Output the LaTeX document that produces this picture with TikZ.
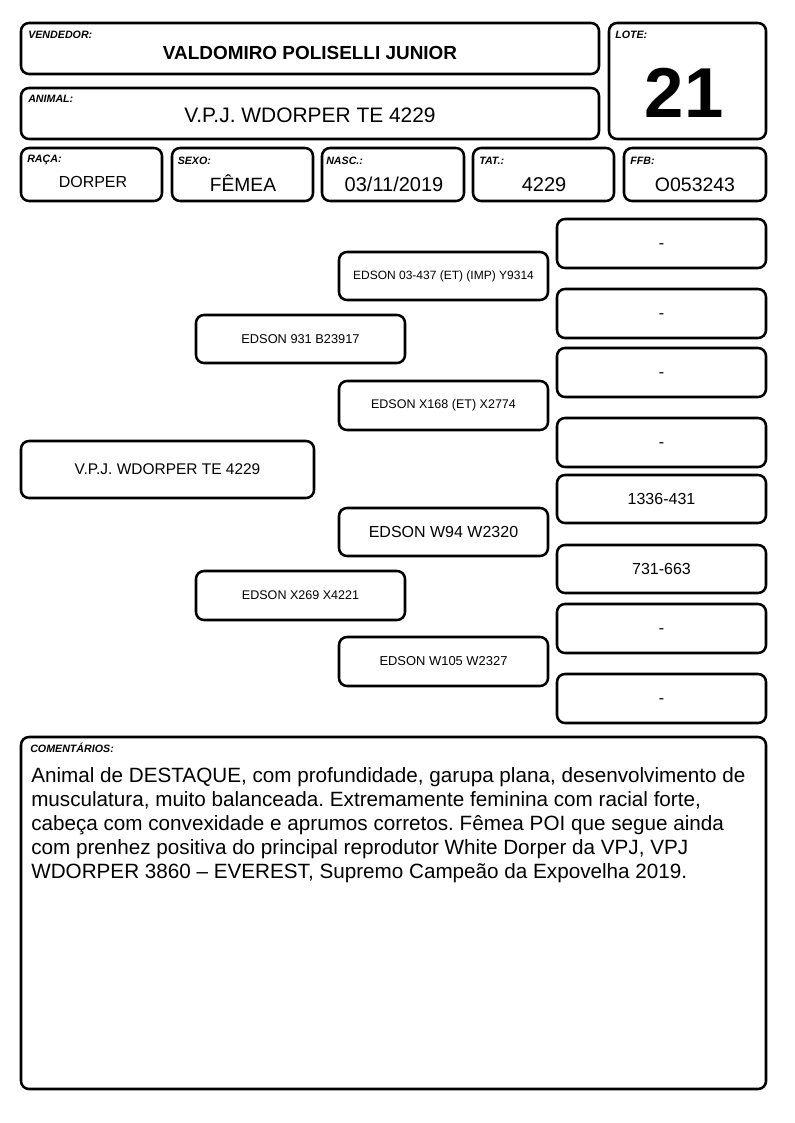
\documentclass[tikz,border=0pt]{standalone}
\usepackage{fontspec}
\setmainfont{Liberation Sans}
\begin{document}
\frenchspacing
\begin{tikzpicture}[x=0.75pt,y=-0.75pt,
  box/.style={draw, line width=1.9pt, rounded corners=6pt, inner sep=0pt, align=center},
  lbl/.style={anchor=base west, inner sep=0pt, font=\fontsize{8}{9}\selectfont\bfseries\itshape},
  val/.style={anchor=base, inner sep=0pt}]
\useasboundingbox (0,0) rectangle (794,1123);
\newcommand\mybx[6]{\node[box, minimum width={(#4-#2)*0.75pt}, minimum height={(#5-#3)*0.75pt}] (#1) at ({(#2+#4)/2},{(#3+#5)/2}) {#6};}
\newcommand\myrbx[6]{\node[box, text height=7.5pt, text depth=0pt, font=\fontsize{12}{14}\selectfont, minimum width={(#4-#2)*0.75pt}, minimum height={(#5-#3)*0.75pt}] (#1) at ({(#2+#4)/2},{(#3+#5)/2}) {#6};}
% header boxes
\mybx{vend}{21}{23}{599}{74}{}
\mybx{anim}{21}{88}{599}{139}{}
\mybx{lote}{609}{23}{766}{139}{}
\mybx{raca}{21}{148}{162}{201}{}
\mybx{sexo}{172}{148}{313}{201}{}
\mybx{nasc}{322}{148}{464}{201}{}
\mybx{tat}{473}{148}{614}{201}{}
\mybx{ffb}{624}{148}{766}{201}{}
% labels
\node[lbl] (lvend) at (28,39) {VENDEDOR:};
\node[lbl] (lanim) at (28,103) {ANIMAL:};
\node[lbl] (llote) at (615,39) {LOTE:};
\node[lbl] (lraca) at (27,163) {RAÇA:};
\node[lbl] (lsexo) at (177.5,165) {SEXO:};
\node[lbl] (lnasc) at (326,165) {NASC.:};
\node[lbl] (ltat) at (479,165) {TAT.:};
\node[lbl] (lffb) at (630,165) {FFB:};
% values
\node[val, font=\fontsize{14.2}{16}\selectfont\bfseries] (vvend) at (310,60) {VALDOMIRO POLISELLI JUNIOR};
\node[val, font=\fontsize{15.7}{18}\selectfont] (vanim) at (310,123) {V.P.J. WDORPER TE 4229};
\node[val, font=\fontsize{53}{56}\selectfont\bfseries] (vlote) at (684,118) {21};
\node[val, font=\fontsize{12}{14}\selectfont] (vraca) at (93,188) {DORPER};
\node[val, font=\fontsize{14.4}{16}\selectfont] (vsexo) at (243,192) {FÊMEA};
\node[val, font=\fontsize{15}{16}\selectfont] (vnasc) at (394,192) {03/11/2019};
\node[val, font=\fontsize{15}{16}\selectfont] (vtat) at (544,192) {4229};
\node[val, font=\fontsize{14.6}{16}\selectfont] (vffb) at (695,192) {O053243};
% pedigree
\mybx{p0}{21}{441}{314}{498}{\fontsize{11.6}{13}\selectfont V.P.J. WDORPER TE 4229}
\mybx{p1}{196}{315}{405}{363}{\fontsize{9.6}{11}\selectfont EDSON 931 B23917}
\mybx{p2}{196}{571}{405}{620}{\fontsize{9.4}{11}\selectfont EDSON X269 X4221}
\mybx{p11}{339}{252}{548}{300}{\fontsize{9}{11}\selectfont EDSON 03-437 (ET) (IMP) Y9314}
\mybx{p12}{339}{381}{548}{430}{\fontsize{9.4}{11}\selectfont EDSON X168 (ET) X2774}
\mybx{p21}{339}{508}{548}{556}{\fontsize{12}{14}\selectfont EDSON W94 W2320}
\mybx{p22}{339}{637}{548}{686}{\fontsize{9.7}{11}\selectfont EDSON W105 W2327}
\myrbx{r1}{557}{219}{766}{268}{-}
\myrbx{r2}{557}{289}{766}{338}{-}
\myrbx{r3}{557}{348}{766}{397}{-}
\myrbx{r4}{557}{418}{766}{467}{-}
\myrbx{r5}{557}{475}{766}{523}{1336-431}
\myrbx{r6}{557}{545}{766}{593}{731-663}
\myrbx{r7}{557}{604}{766}{653}{-}
\myrbx{r8}{557}{674}{766}{723}{-}
% comments
\mybx{com}{21}{737}{766}{1089}{}
\node[lbl] (lcom) at (30,752) {COMENTÁRIOS:};
\node[anchor=north west, inner sep=0pt, align=left, font=\fontsize{15.5}{18}\selectfont] (tcom) at (31,767)
 {Animal de DESTAQUE, com profundidade, garupa plana, desenvolvimento de\\
  musculatura, muito balanceada. Extremamente feminina com racial forte,\\
  cabeça com convexidade e aprumos corretos. Fêmea POI que segue ainda\\
  com prenhez positiva do principal reprodutor White Dorper da VPJ, VPJ\\
  WDORPER 3860 – EVEREST, Supremo Campeão da Expovelha 2019.};
\end{tikzpicture}
\end{document}
